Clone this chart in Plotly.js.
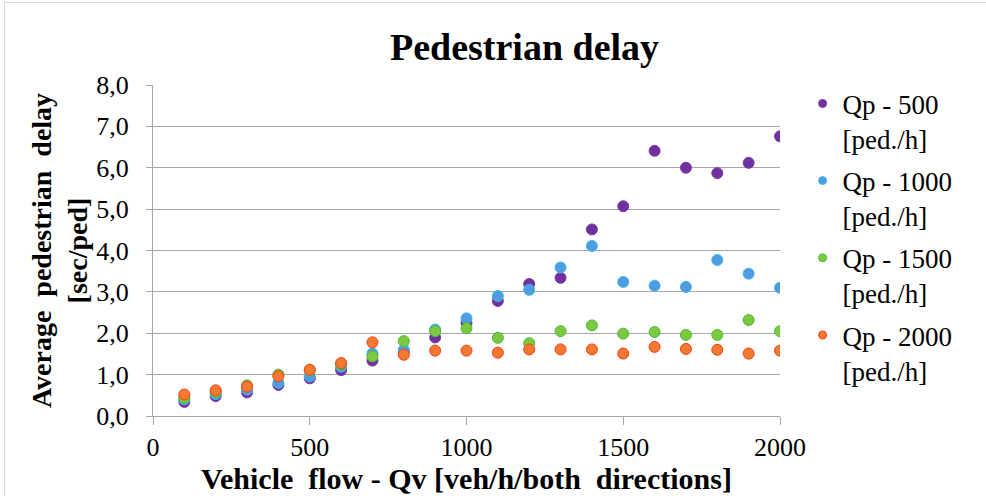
<!DOCTYPE html>
<html>
<head>
<meta charset="utf-8">
<script src="https://cdn.plot.ly/plotly-3.0.1.min.js"></script>
<style>
html,body{margin:0;padding:0;background:#fff;}
#wrap{position:relative;width:986px;height:496px;overflow:hidden;}
#chart{width:986px;height:496px;}
#frame{position:absolute;left:4px;top:2px;width:990px;height:500px;border:1px solid #d9d9d9;pointer-events:none;}
</style>
</head>
<body>
<div id="wrap"><div id="chart"></div><div id="frame"></div></div>
<script>
const vehicleFlow = [100,200,300,400,500,600,700,800,900,1000,1100,1200,1300,1400,1500,1600,1700,1800,1900,2000];
const qp500  = [0.34,0.48,0.57,0.75,0.91,1.11,1.34,1.56,1.90,2.25,2.78,3.19,3.34,4.51,5.07,6.41,6.00,5.87,6.12,6.76];
const qp1000 = [0.40,0.53,0.64,0.80,0.96,1.19,1.51,1.60,2.09,2.36,2.90,3.05,3.59,4.11,3.24,3.15,3.12,3.77,3.44,3.10];
const qp1500 = [0.44,0.58,0.74,1.00,1.10,1.25,1.44,1.81,2.05,2.12,1.89,1.76,2.05,2.19,1.99,2.03,1.96,1.96,2.32,2.05];
const qp2000 = [0.52,0.62,0.71,0.96,1.12,1.28,1.78,1.48,1.58,1.58,1.53,1.61,1.61,1.61,1.51,1.67,1.62,1.60,1.51,1.58];
const seriesNames = ["Qp - 500<br>[ped./h]","Qp - 1000<br>[ped./h]","Qp - 1500<br>[ped./h]","Qp - 2000<br>[ped./h]"];
const fillColors = ["#7030a0","#4f9ddf","#7cc940","#f07a32"];
const lineColors = ["#7a3aa8","#3fb4f0","#4dba3a","#ff3b10"];
const allSeries = [qp500, qp1000, qp1500, qp2000];

const serif = "'Liberation Serif', 'Times New Roman', serif";
const traces = allSeries.map((ys, i) => ({
  x: vehicleFlow, y: ys, type: "scatter", mode: "markers", name: seriesNames[i],
  showlegend: false,
  marker: {size: 11, color: fillColors[i], line: {color: lineColors[i], width: 1}}
}));
const legendTraces = seriesNames.map((nm, i) => ({
  x: [null], y: [null], type: "scatter", mode: "markers", name: nm, legendgroup: "g" + i,
  marker: {size: 8, color: fillColors[i], line: {color: lineColors[i], width: 1}}
}));

const layout = {
  width: 986, height: 496,
  margin: {l: 153, r: 206, t: 85, b: 80},
  paper_bgcolor: "#fff", plot_bgcolor: "#fff",
  font: {family: serif, color: "#000", size: 24},
  separators: ", ",
  showlegend: true,
  title: {text: "<b>Pedestrian delay</b>", font: {family: serif, size: 38, color: "#000"},
          x: 0.532, xanchor: "center", y: 0.905, yanchor: "middle", xref: "container", yref: "container"},
  xaxis: {
    range: [0, 2000], tickvals: [0,500,1000,1500,2000], ticktext: ["0","500","1000","1500","2000"],
    showgrid: false, zeroline: false, showline: true, linecolor: "#a6a6a6", linewidth: 1,
    ticks: "outside", ticklen: 8, tickcolor: "#a6a6a6",
    tickfont: {family: serif, size: 26, color: "#000"},
    title: {text: "<b>Vehicle  flow - Qv [veh/h/both  directions]</b>", font: {family: serif, size: 30, color: "#000"}, standoff: 0}
  },
  yaxis: {
    range: [0, 8], dtick: 1, tickformat: ".1f",
    showgrid: true, gridcolor: "#a6a6a6", gridwidth: 1, zeroline: false,
    showline: true, linecolor: "#a6a6a6", linewidth: 1,
    ticks: "outside", ticklen: 6, tickcolor: "#a6a6a6", ticklabelstandoff: 12,
    tickfont: {family: serif, size: 26, color: "#000"},
    title: {text: "<b>Average  pedestrian  delay<br>[sec/ped]</b>", font: {family: serif, size: 28, color: "#000"}, standoff: 0}
  },
  legend: {
    x: 0.814, xref: "container", y: 0.84, yref: "container", xanchor: "left", yanchor: "top",
    font: {family: serif, size: 27, color: "#000"}, tracegroupgap: 4, itemwidth: 30,
    valign: "top", maxheight: 420, bgcolor: "rgba(0,0,0,0)"
  }
};

Plotly.newPlot("chart", traces.concat(legendTraces), layout, {displayModeBar: false, staticPlot: true});
</script>
</body>
</html>
